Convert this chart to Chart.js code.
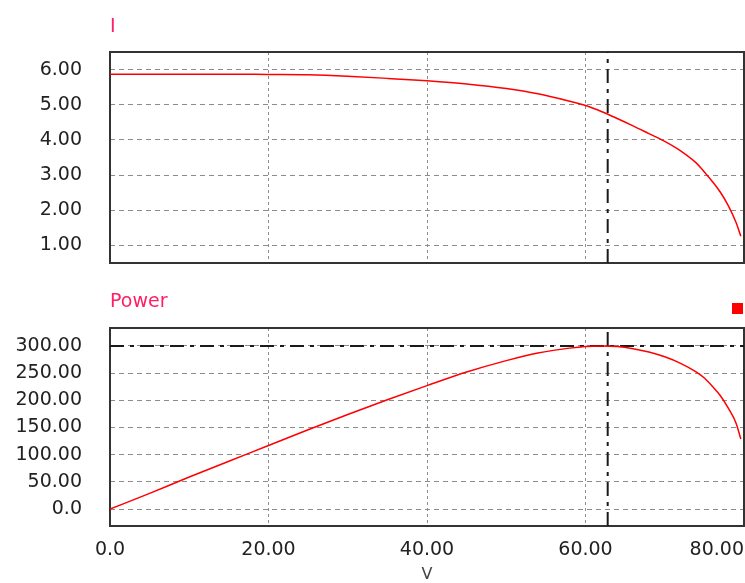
<!DOCTYPE html>
<html>
<head>
<meta charset="utf-8">
<script src="https://cdn.jsdelivr.net/npm/chart.js@4.4.1/dist/chart.umd.min.js"></script>
<style>
  html, body { margin: 0; padding: 0; background: #fff; overflow: hidden; }
  #wrap { position: relative; width: 745px; height: 583px; }
  #topChart { position: absolute; left: 0; top: 0; }
  #bottomChart { position: absolute; left: 0; top: 280px; }
</style>
</head>
<body>
<div id="wrap">
  <canvas id="topChart" width="745" height="280"></canvas>
  <canvas id="bottomChart" width="745" height="303"></canvas>
</div>
<script>
// values
const voltage = [0, 5, 10, 15, 20, 25, 30, 35, 40, 45, 50, 54, 58, 60, 62, 64, 66, 68, 70, 72, 74, 75, 76, 77, 78, 79, 79.6];
const current = [5.87, 5.87, 5.87, 5.87, 5.86, 5.85, 5.81, 5.75, 5.68, 5.59, 5.46, 5.31, 5.10, 4.98, 4.81, 4.61, 4.40, 4.18, 3.96, 3.69, 3.34, 3.09, 2.82, 2.52, 2.14, 1.65, 1.26];
const power = [0, 29, 59, 88, 117, 146, 174, 201, 227, 252, 273, 287, 296, 299, 300, 299, 295, 289, 280, 268, 252, 241, 226, 209, 186, 158, 129];

const vTicks = [0, 20, 40, 60, 80];
const currentTicks = [1, 2, 3, 4, 5, 6];
const powerTicks = [0, 50, 100, 150, 200, 250, 300];

const vRange = [0, 80];
const currentRange = [0.5, 6.5];
const powerRange = [-31, 333];

const cursorV = 62.8;   // dash-dot marker
const maxPower = 300;

const FONT = "'DejaVu Sans', sans-serif";
const titleColor = "#ff1f66";
const gridColor = "#8c8c8c";
const cursorColor = "#1a1a1a";

function fmt(v) {
  return v === 0 ? "0.0" : v.toFixed(2);
}

function pts(xs, ys) {
  return xs.map((x, i) => ({ x: x, y: ys[i] }));
}

// box round the plot area
const framePlugin = {
  id: "frame",
  beforeDatasetsDraw(chart) {
    const { ctx, chartArea: a } = chart;
    ctx.save();
    ctx.strokeStyle = "#333";
    ctx.lineWidth = 2;
    ctx.strokeRect(a.left, a.top, a.right - a.left, a.bottom - a.top);
    ctx.restore();
  }
};

// first x label centred on its tick (align 'inner' puts it to the right)
const firstLabelPlugin = {
  id: "firstLabel",
  beforeDraw(chart) {
    const s = chart.scales.x;
    if (!s || !s.options.ticks.display) return;
    const items = s.getLabelItems(chart.chartArea);
    if (items.length) items[0].options.textAlign = "center";
  }
};

// small red legend square above the power plot
const markerPlugin = {
  id: "marker",
  afterDraw(chart) {
    const { ctx, chartArea: a } = chart;
    ctx.save();
    ctx.fillStyle = "#ff0000";
    ctx.fillRect(a.right - 12, 23, 11, 11);
    ctx.restore();
  }
};

// tick marks are kept invisible, their length only spaces the labels
function xScale(showLabels) {
  return {
    type: "linear",
    min: vRange[0],
    max: vRange[1],
    afterBuildTicks: (s) => { s.ticks = vTicks.map(v => ({ value: v })); },
    grid: {
      color: gridColor, lineWidth: 1,
      drawTicks: showLabels, tickLength: 12.6, tickColor: "rgba(0,0,0,0)"
    },
    border: { display: false, dash: [3, 3] },
    ticks: {
      display: showLabels,
      align: "inner",
      padding: 0,
      color: "#222",
      font: { family: FONT, size: 19 },
      callback: (v) => fmt(v)
    },
    title: {
      display: showLabels,
      text: "V",
      color: "#444",
      font: { family: FONT, size: 16, lineHeight: 1 },
      padding: { top: 5.6, bottom: 0 }
    }
  };
}

function yScale(range, tickList) {
  return {
    type: "linear",
    min: range[0],
    max: range[1],
    afterBuildTicks: (s) => { s.ticks = tickList.map(v => ({ value: v })); },
    afterFit: (s) => { s.width = 110; },
    grid: {
      color: gridColor, lineWidth: 1,
      drawTicks: true, tickLength: 28, tickColor: "rgba(0,0,0,0)"
    },
    border: { display: false, dash: [5, 4] },
    ticks: {
      padding: 0,
      color: "#222",
      font: { family: FONT, size: 19 },
      callback: (v) => fmt(v)
    }
  };
}

function curveSet(data) {
  return {
    data: data,
    borderColor: "#ff0000",
    borderWidth: 1.5,
    pointRadius: 0,
    fill: false,
    cubicInterpolationMode: "monotone"
  };
}

function cursorSet(data) {
  return {
    data: data,
    borderColor: cursorColor,
    borderWidth: 2,
    borderDash: [14, 6, 4, 6],
    pointRadius: 0,
    fill: false,
    tension: 0
  };
}

function titleOpts(text, padTop, padBottom) {
  return {
    display: true,
    text: text,
    align: "start",
    fullSize: false,
    color: titleColor,
    font: { family: FONT, size: 19, weight: "normal" },
    padding: { top: padTop, bottom: padBottom }
  };
}

new Chart(document.getElementById("topChart").getContext("2d"), {
  type: "line",
  data: {
    datasets: [
      curveSet(pts(voltage, current)),
      cursorSet([{ x: cursorV, y: currentRange[0] }, { x: cursorV, y: currentRange[1] }])
    ]
  },
  options: {
    responsive: false,
    animation: false,
    events: [],
    layout: { padding: { top: 0, right: 1, bottom: 17, left: 0 } },
    scales: { x: xScale(false), y: yScale(currentRange, currentTicks) },
    plugins: {
      legend: { display: false },
      tooltip: { enabled: false },
      title: titleOpts("I", 15.6, 13.6)
    }
  },
  plugins: [framePlugin]
});

new Chart(document.getElementById("bottomChart").getContext("2d"), {
  type: "line",
  data: {
    datasets: [
      curveSet(pts(voltage, power)),
      cursorSet([{ x: cursorV, y: powerRange[0] }, { x: cursorV, y: powerRange[1] }]),
      cursorSet([{ x: vRange[0], y: maxPower }, { x: vRange[1], y: maxPower }])
    ]
  },
  options: {
    responsive: false,
    animation: false,
    events: [],
    layout: { padding: { top: 0, right: 1, bottom: 0, left: 0 } },
    scales: { x: xScale(true), y: yScale(powerRange, powerTicks) },
    plugins: {
      legend: { display: false },
      tooltip: { enabled: false },
      title: titleOpts("Power", 10.6, 14.6)
    }
  },
  plugins: [framePlugin, firstLabelPlugin, markerPlugin]
});
</script>
</body>
</html>
